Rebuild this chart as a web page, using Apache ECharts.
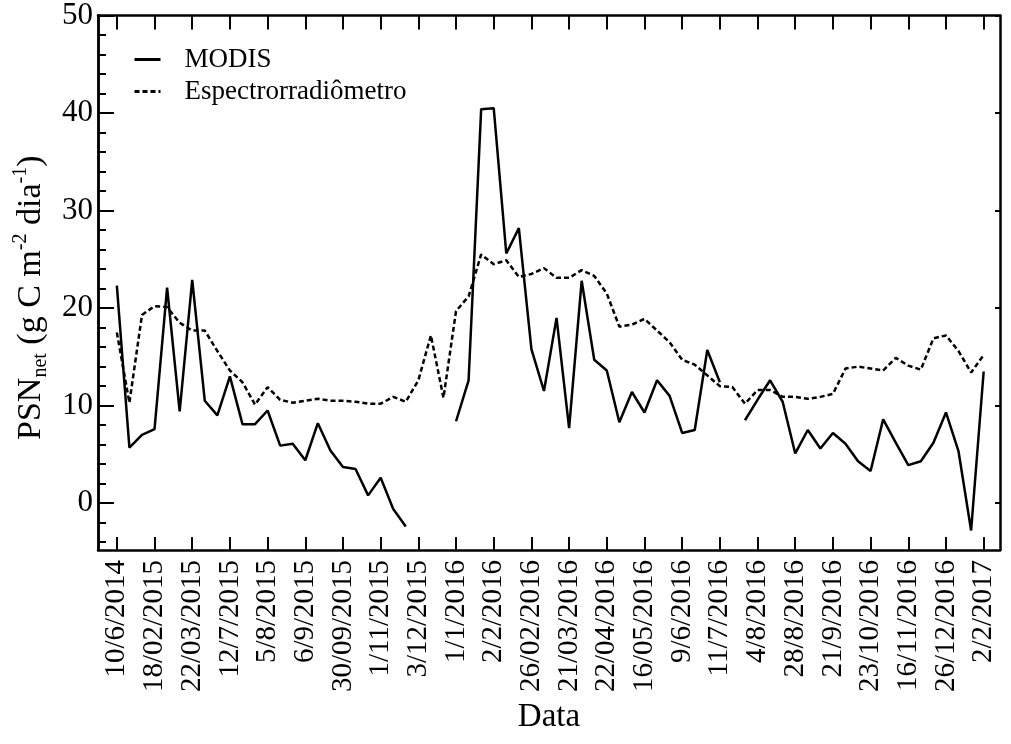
<!DOCTYPE html>
<html>
<head>
<meta charset="utf-8">
<script src="https://cdn.jsdelivr.net/npm/echarts@6/dist/echarts.min.js"></script>
<style>
  html, body { margin: 0; padding: 0; background: #fff; }
  #chart { width: 1011px; height: 744px; }
</style>
</head>
<body>
<div id="chart"></div>
<script>
// Date labels shown under every third 8-day composite
const tickLabels = ['10/6/2014', '18/02/2015', '22/03/2015', '12/7/2015', '5/8/2015', '6/9/2015',
  '30/09/2015', '1/11/2015', '3/12/2015', '1/1/2016', '2/2/2016', '26/02/2016', '21/03/2016',
  '22/04/2016', '16/05/2016', '9/6/2016', '11/7/2016', '4/8/2016', '28/8/2016', '21/9/2016',
  '23/10/2016', '16/11/2016', '26/12/2016', '2/2/2017'];

// Net photosynthesis, g C m-2 day-1 (null = no data)
const modis = [22.3, 5.7, 7.0, 7.6, 22.1, 9.4, 22.9, 10.5, 9.0, 13.0,
  8.1, 8.1, 9.5, 5.9, 6.1, 4.4, 8.2, 5.4, 3.7, 3.5,
  0.8, 2.6, -0.6, -2.4, null, null, null, 8.4, 12.6, 40.4,
  40.5, 25.6, 28.2, 15.8, 11.5, 19.0, 7.7, 22.8, 14.7, 13.6,
  8.3, 11.4, 9.3, 12.6, 11.0, 7.2, 7.5, 15.7, 12.4, null,
  8.5, 10.6, 12.6, 10.4, 5.1, 7.5, 5.6, 7.2, 6.1, 4.3,
  3.3, 8.6, 6.2, 3.9, 4.3, 6.2, 9.3, 5.3, -2.8, 13.5];

const espectro = [17.5, 10.3, 19.3, 20.2, 20.1, 18.5, 17.7, 17.7, 15.6, 13.6,
  12.4, 10.1, 11.9, 10.6, 10.3, 10.5, 10.7, 10.5, 10.5, 10.4,
  10.2, 10.2, 10.9, 10.4, 12.6, 17.2, 10.8, 19.7, 21.2, 25.5,
  24.5, 24.9, 23.2, 23.5, 24.1, 23.1, 23.1, 23.9, 23.3, 21.5,
  18.1, 18.3, 18.9, 17.7, 16.5, 14.7, 14.2, 13.1, 12.0, 11.9,
  10.2, 11.6, 11.6, 10.9, 10.9, 10.7, 10.9, 11.2, 13.8, 14.0,
  13.8, 13.6, 14.9, 14.1, 13.7, 16.9, 17.2, 15.6, 13.4, 15.2];

const yMajor = [0, 10, 20, 30, 40, 50];
const yMinor = [-4, -2, 2, 4, 6, 8, 12, 14, 16, 18, 22, 24, 26, 28, 32, 34, 36, 38, 42, 44, 46, 48];

const FONT = "'Liberation Serif', 'Times New Roman', serif";
const xTickPos = tickLabels.map((_, k) => k * 3);
const toPairs = arr => arr.map((v, i) => [i, v == null ? '-' : v]);

const X_MIN = -1.5, X_MAX = 70.3, Y_MIN = -4.8, Y_MAX = 50;
const frame = { show: true, onZero: false, lineStyle: { color: '#000', width: 2.5 } };

const chart = echarts.init(document.getElementById('chart'), null, { renderer: 'canvas' });
chart.setOption({
  animation: false,
  backgroundColor: '#fff',
  grid: { left: 98, right: 11, top: 14, bottom: 194, containLabel: false },
  legend: {
    orient: 'vertical', left: 128, top: 41,
    itemWidth: 26, itemHeight: 14, itemGap: 5,
    itemStyle: { color: 'rgba(0,0,0,0)', borderWidth: 0, opacity: 0 },
    lineStyle: { width: 3 },
    textStyle: { fontFamily: FONT, fontSize: 27, color: '#000', padding: [0, 0, 0, 19] },
    data: ['MODIS', 'Espectrorradiômetro']
  },
  xAxis: [
    {
      type: 'value', position: 'bottom', min: X_MIN, max: X_MAX,
      name: 'Data', nameLocation: 'middle', nameGap: 151,
      nameTextStyle: { fontFamily: FONT, fontSize: 33, color: '#000' },
      axisLine: frame,
      axisTick: { show: true, inside: true, length: 13, customValues: xTickPos,
        lineStyle: { color: '#000', width: 2 } },
      axisLabel: { show: true, rotate: 90, margin: 10, customValues: xTickPos,
        fontFamily: FONT, fontSize: 29, color: '#000',
        formatter: v => tickLabels[Math.round(v / 3)] || '' },
      splitLine: { show: false }
    },
    {
      type: 'value', position: 'top', min: X_MIN, max: X_MAX,
      axisLine: frame,
      axisTick: { show: true, inside: true, length: 14, customValues: xTickPos,
        lineStyle: { color: '#000', width: 2 } },
      axisLabel: { show: false },
      splitLine: { show: false }
    }
  ],
  yAxis: [
    {
      type: 'value', position: 'left', min: Y_MIN, max: Y_MAX,
      name: '{a|PSN}{s|net}{a| (g C m}{p|-2}{a| dia}{p|-1}{a|)}',
      nameLocation: 'middle', nameGap: 38, nameRotate: 90,
      nameTextStyle: {
        fontFamily: FONT, fontSize: 34, color: '#000', padding: [0, 30, 0, 0],
        rich: {
          a: { fontFamily: FONT, fontSize: 34, color: '#000', lineHeight: 40, verticalAlign: 'middle' },
          s: { fontFamily: FONT, fontSize: 20, color: '#000', lineHeight: 40, verticalAlign: 'bottom' },
          p: { fontFamily: FONT, fontSize: 20, color: '#000', lineHeight: 40, verticalAlign: 'top' }
        }
      },
      axisLine: frame,
      axisTick: { show: true, inside: true, length: 16, customValues: yMajor,
        lineStyle: { color: '#000', width: 2 } },
      axisLabel: { show: true, margin: 5, customValues: yMajor,
        fontFamily: FONT, fontSize: 31, color: '#000' },
      splitLine: { show: false }
    },
    {
      type: 'value', position: 'left', min: Y_MIN, max: Y_MAX,
      axisLine: frame,
      axisTick: { show: true, inside: true, length: 8, customValues: yMinor,
        lineStyle: { color: '#000', width: 2 } },
      axisLabel: { show: false },
      splitLine: { show: false }
    },
    {
      type: 'value', position: 'right', min: Y_MIN, max: Y_MAX,
      axisLine: frame,
      axisTick: { show: true, inside: true, length: 5, customValues: yMajor,
        lineStyle: { color: '#000', width: 2 } },
      axisLabel: { show: false },
      splitLine: { show: false }
    }
  ],
  series: [
    {
      name: 'MODIS', type: 'line', xAxisIndex: 0, yAxisIndex: 0,
      data: toPairs(modis), symbol: 'none', connectNulls: false,
      lineStyle: { color: '#000', width: 2.5, type: 'solid' },
      itemStyle: { color: '#000' }
    },
    {
      name: 'Espectrorradiômetro', type: 'line', xAxisIndex: 0, yAxisIndex: 0,
      data: toPairs(espectro), symbol: 'none', connectNulls: false,
      lineStyle: { color: '#000', width: 2.5, type: [5, 3] },
      itemStyle: { color: '#000' }
    }
  ]
});
</script>
</body>
</html>
